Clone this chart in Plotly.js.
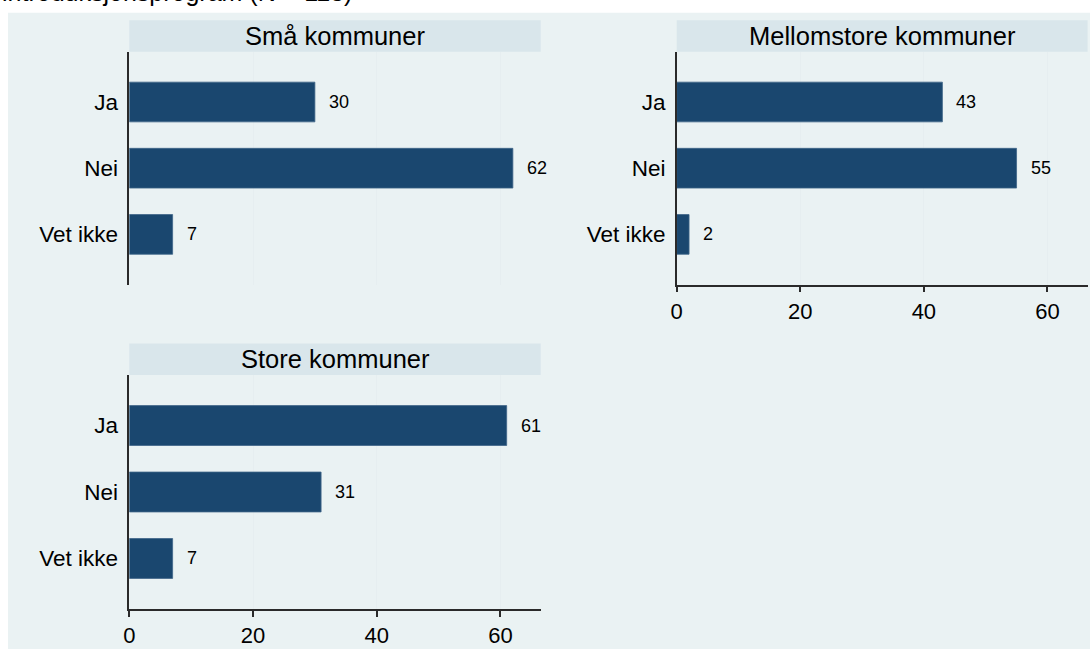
<!DOCTYPE html>
<html>
<head>
<meta charset="utf-8">
<script src="https://cdn.plot.ly/plotly-3.0.1.min.js"></script>
<style>
  html, body { margin: 0; padding: 0; background: #ffffff; }
  #chart { width: 1090px; height: 649px; }
</style>
</head>
<body>
<div id="chart"></div>
<script>
// ---- Data ----
const categories = ['Ja', 'Nei', 'Vet ikke'];
const panelTitles = ['Små kommuner', 'Mellomstore kommuner', 'Store kommuner'];
const smaValues = [30, 62, 7];
const mellomValues = [43, 55, 2];
const storeValues = [61, 31, 7];
const xTickVals = [0, 20, 40, 60];
const xTickText = ['0', '20', '40', '60'];
const headerText = 'introduksjonsprogram (N = 113)';

// ---- Styling ----
const W = 1090, H = 649;
const FONT = '"Liberation Sans", Arial, sans-serif';
const BAR = '#1a476f';
const BG = '#eaf2f3';
const STRIP = '#d9e6eb';
const GRID = '#e6eef0';
const AXIS = '#2a2a2a';
const px = v => v / W;
const py = v => 1 - v / H;

const panels = [
  {values: smaValues, xa: 'x', ya: 'y', x0: 129.3, x1: 540.7, y0: 51.7, y1: 284.7, ticks: false},
  {values: mellomValues, xa: 'x2', ya: 'y2', x0: 676.7, x1: 1087.6, y0: 51.7, y1: 284.7, ticks: true},
  {values: storeValues, xa: 'x3', ya: 'y3', x0: 129.3, x1: 540.7, y0: 375, y1: 609, ticks: true}
];
const XMAX = 66.5;

const traces = panels.map(p => ({
  type: 'bar',
  orientation: 'h',
  y: categories,
  x: p.values,
  xaxis: p.xa,
  yaxis: p.ya,
  width: 0.6,
  marker: {color: BAR, line: {color: '#3f6488', width: 0.8}},
  hoverinfo: 'x+y',
  showlegend: false
}));

const layout = {
  width: W, height: H,
  margin: {l: 0, r: 0, t: 0, b: 0},
  paper_bgcolor: '#ffffff',
  plot_bgcolor: '#ffffff',
  font: {family: FONT, color: '#000000'},
  showlegend: false,
  shapes: [],
  annotations: []
};

// background panel
layout.shapes.push({type: 'rect', xref: 'paper', yref: 'paper', layer: 'below',
  x0: px(8), x1: 1, y0: 0, y1: py(12.7), fillcolor: BG, line: {width: 0}});

// header text (partially cut off at the top edge, as in the source image)
layout.annotations.push({xref: 'paper', yref: 'paper', x: px(0), y: py(7.5), xanchor: 'left', yanchor: 'bottom',
  text: headerText, showarrow: false, font: {size: 25, family: FONT, color: '#000'}});

panels.forEach((p, i) => {
  const n = i === 0 ? '' : String(i + 1);
  layout['xaxis' + n] = {
    domain: [px(p.x0), px(p.x1)],
    anchor: 'y' + n,
    range: [0, XMAX],
    tickvals: xTickVals,
    ticktext: xTickText,
    showticklabels: p.ticks,
    ticks: p.ticks ? 'outside' : '',
    ticklen: 6, tickwidth: 1.5, tickcolor: AXIS,
    tickfont: {size: 22, color: '#000'},
    showline: p.ticks, linecolor: AXIS, linewidth: 1.5,
    showgrid: true, gridcolor: GRID, gridwidth: 1,
    zeroline: false,
    fixedrange: true
  };
  layout['yaxis' + n] = {
    domain: [py(p.y1), py(p.y0)],
    anchor: 'x' + n,
    type: 'category',
    categoryorder: 'array',
    categoryarray: categories,
    range: [2.76, -0.76],
    showline: true, linecolor: AXIS, linewidth: 1.5,
    ticks: '',
    ticklabelstandoff: 5,
    tickfont: {size: 22.5, color: '#000'},
    showgrid: false, zeroline: false,
    fixedrange: true
  };
  // strip header
  const sy1 = p.y0, sy0 = p.y0 - 31.5;
  layout.shapes.push({type: 'rect', xref: 'paper', yref: 'paper', layer: 'below',
    x0: px(p.x0), x1: px(p.x1), y0: py(p.y0), y1: py(sy0), fillcolor: STRIP, line: {width: 0}});
  layout.annotations.push({xref: 'paper', yref: 'paper', x: px((p.x0 + p.x1) / 2), y: py((sy0 + sy1) / 2),
    xanchor: 'center', yanchor: 'middle', text: panelTitles[i], showarrow: false,
    font: {size: 25.5, color: '#000'}});
  // value labels
  p.values.forEach((v, j) => {
    layout.annotations.push({xref: p.xa, yref: p.ya, x: v, y: categories[j],
      xanchor: 'left', yanchor: 'middle', xshift: 12, text: String(v), showarrow: false,
      font: {size: 18, color: '#000'}});
  });
});

Plotly.newPlot('chart', traces, layout, {displayModeBar: false, responsive: false});
</script>
</body>
</html>
